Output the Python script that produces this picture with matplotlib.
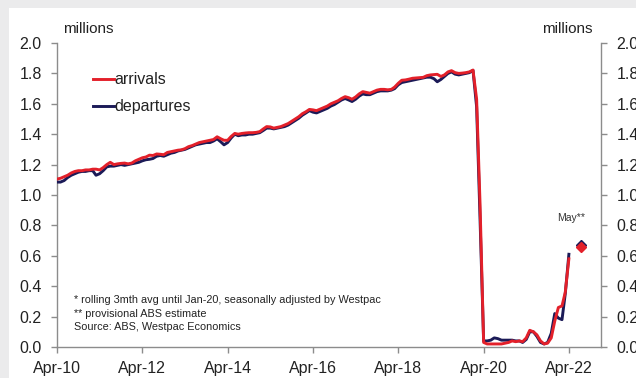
import matplotlib
matplotlib.use("Agg")
import matplotlib.pyplot as plt
from matplotlib.patches import Rectangle
import pandas as pd

plt.rcParams['font.family'] = ['Liberation Sans', 'DejaVu Sans']

# Monthly short-term visitor movements, millions (Apr-10 .. Apr-22)
months = pd.date_range("2010-04-01", "2022-04-01", freq="MS")

arrivals = [
    1.105, 1.110, 1.120, 1.130, 1.145, 1.155, 1.160, 1.160, 1.165, 1.165, 1.170, 1.170,
    1.165, 1.180, 1.200, 1.215, 1.200, 1.205, 1.208, 1.210, 1.205, 1.210, 1.225, 1.235,
    1.245, 1.250, 1.262, 1.260, 1.270, 1.268, 1.265, 1.280, 1.285, 1.290, 1.295, 1.297,
    1.305, 1.318, 1.325, 1.335, 1.345, 1.350, 1.355, 1.360, 1.365, 1.383, 1.370, 1.360,
    1.360, 1.385, 1.405, 1.400, 1.405, 1.408, 1.410, 1.410, 1.412, 1.417, 1.435, 1.450,
    1.448, 1.440, 1.445, 1.450, 1.460, 1.470, 1.485, 1.500, 1.515, 1.535, 1.548, 1.563,
    1.560, 1.555, 1.565, 1.575, 1.585, 1.600, 1.610, 1.620, 1.635, 1.647, 1.640, 1.630,
    1.645, 1.665, 1.680, 1.675, 1.670, 1.680, 1.690, 1.695, 1.695, 1.692, 1.695, 1.710,
    1.735, 1.755, 1.757, 1.762, 1.768, 1.770, 1.772, 1.774, 1.785, 1.790, 1.792, 1.794,
    1.780, 1.790, 1.810, 1.818, 1.805, 1.800, 1.802, 1.805, 1.810, 1.822,
    1.630, 0.950,
    0.030, 0.020, 0.020, 0.020, 0.020, 0.020, 0.025, 0.030, 0.040, 0.035, 0.040, 0.035,
    0.060, 0.110, 0.100, 0.080, 0.040, 0.020, 0.025, 0.060, 0.170, 0.260, 0.270, 0.360,
    0.580,
]

departures = [
    1.085, 1.085, 1.095, 1.115, 1.130, 1.140, 1.150, 1.155, 1.155, 1.160, 1.160, 1.130,
    1.140, 1.160, 1.185, 1.190, 1.190, 1.195, 1.200, 1.195, 1.200, 1.205, 1.210, 1.215,
    1.225, 1.232, 1.235, 1.240, 1.255, 1.260, 1.255, 1.265, 1.275, 1.280, 1.290, 1.295,
    1.300, 1.310, 1.320, 1.330, 1.335, 1.340, 1.345, 1.345, 1.355, 1.370, 1.350, 1.330,
    1.345, 1.375, 1.400, 1.390, 1.395, 1.395, 1.400, 1.400, 1.405, 1.410, 1.425, 1.440,
    1.440, 1.435, 1.440, 1.445, 1.450, 1.460, 1.475, 1.490, 1.505, 1.525, 1.540, 1.555,
    1.545, 1.540, 1.550, 1.560, 1.570, 1.585, 1.595, 1.610, 1.625, 1.635, 1.625, 1.615,
    1.630, 1.650, 1.665, 1.660, 1.660, 1.670, 1.680, 1.685, 1.685, 1.685, 1.690, 1.700,
    1.725, 1.740, 1.745, 1.750, 1.755, 1.760, 1.765, 1.770, 1.775, 1.775, 1.765, 1.745,
    1.760, 1.780, 1.800, 1.810, 1.795, 1.790, 1.795, 1.800, 1.805, 1.820,
    1.580, 0.850,
    0.040, 0.040, 0.045, 0.060, 0.055, 0.045, 0.045, 0.045, 0.045, 0.040, 0.040, 0.030,
    0.050, 0.100, 0.100, 0.070, 0.030, 0.020, 0.030, 0.090, 0.220, 0.190, 0.180, 0.350,
    0.610,
]

# Provisional May-22 estimates
may_date = pd.Timestamp("2022-07-15")
may_arrivals = 0.655
may_departures = 0.67

tick_dates = pd.date_range("2010-04-01", "2022-04-01", freq="24MS")
tick_labels = [d.strftime("Apr-%y") for d in tick_dates]
y_ticks = [0.0, 0.2, 0.4, 0.6, 0.8, 1.0, 1.2, 1.4, 1.6, 1.8, 2.0]

RED = "#e3202a"
NAVY = "#1b1a57"
SPINE = "#8c8c8c"
TEXT = "#222222"

fig = plt.figure(figsize=(6.36, 3.78), dpi=100, facecolor="#ebebec")
fig.patches.append(Rectangle((9 / 636, 0), 1, 1 - 8 / 378, transform=fig.transFigure,
                             facecolor="white", edgecolor="none", zorder=-10))

ax = fig.add_axes([57 / 636, 1 - 347 / 378, (601 - 57) / 636, (347 - 43) / 378])
ax.set_facecolor("none")

ax.plot(months, departures, color=NAVY, lw=2.1, label="departures", zorder=3)
ax.plot(months, arrivals, color=RED, lw=2.1, label="arrivals", zorder=4)
ax.plot([may_date], [may_departures], marker="D", ms=5.5, color=NAVY, ls="none", zorder=5)
ax.plot([may_date], [may_arrivals], marker="D", ms=5.5, color=RED, ls="none", zorder=6)
ax.text(pd.Timestamp("2022-04-20"), 0.85, "May**", fontsize=7.5, color="#333333",
        ha="center", va="center")

ax.set_ylim(0, 2.0)
ax.set_xlim(pd.Timestamp("2010-04-01"), pd.Timestamp("2023-01-01"))
ax.set_yticks(y_ticks)
ax.set_yticklabels([f"{v:.1f}" for v in y_ticks])
ax.set_xticks(tick_dates)
ax.set_xticklabels(tick_labels)

for side in ["left", "bottom", "right"]:
    ax.spines[side].set_color(SPINE)
    ax.spines[side].set_linewidth(1.0)
ax.spines["top"].set_visible(False)

ax.tick_params(axis="both", direction="out", length=4, width=1.0, color=SPINE,
               labelsize=11.5, labelcolor=TEXT, pad=7)
ax.tick_params(axis="y", which="both", left=True, right=True, labelleft=True,
               labelright=True)
ax.tick_params(axis="x", pad=6)

# legend: short line handle immediately followed by its label
handles, labels = ax.get_legend_handles_labels()
leg = ax.legend(handles[::-1], labels[::-1], loc="upper left",
                bbox_to_anchor=(0.055, 0.925), frameon=False, fontsize=11.5,
                handlelength=1.3, handletextpad=0.05, labelspacing=0.75,
                borderaxespad=0)
for t in leg.get_texts():
    t.set_color(TEXT)

fig.text(63 / 636, 1 - 29 / 378, "millions", fontsize=11, color=TEXT,
         ha="left", va="center")
fig.text(593 / 636, 1 - 29 / 378, "millions", fontsize=11, color=TEXT,
         ha="right", va="center")

notes = ("* rolling 3mth avg until Jan-20, seasonally adjusted by Westpac\n"
         "** provisional ABS estimate\n"
         "Source: ABS, Westpac Economics")
fig.text(74 / 636, 1 - 295 / 378, notes, fontsize=7.8, color=TEXT,
         ha="left", va="top", linespacing=1.45)

fig.savefig("out.png", dpi=100, facecolor=fig.get_facecolor())
